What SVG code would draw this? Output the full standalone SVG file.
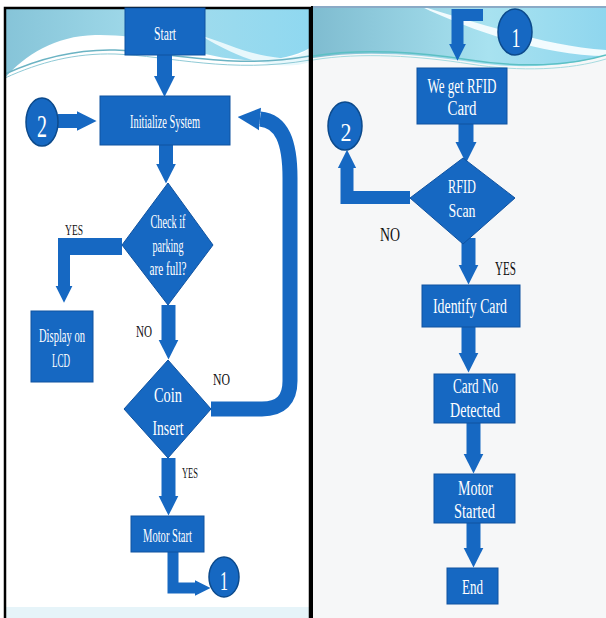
<svg xmlns="http://www.w3.org/2000/svg" width="606" height="618" viewBox="0 0 606 618">
<defs>
<linearGradient id="bandL" x1="0" y1="0" x2="1" y2="0">
<stop offset="0" stop-color="#86c4d8"/><stop offset="0.5" stop-color="#a3dcec"/><stop offset="1" stop-color="#8fd8f0"/>
</linearGradient>
<linearGradient id="bandR" x1="0" y1="0" x2="1" y2="0">
<stop offset="0" stop-color="#7fbcd0"/><stop offset="0.6" stop-color="#a8e2f0"/><stop offset="1" stop-color="#8fd6ee"/>
</linearGradient>
<marker id="ah" viewBox="0 0 10 10" refX="0" refY="5" markerUnits="strokeWidth" markerWidth="1.4" markerHeight="1.9" orient="auto">
<path d="M0,0 L10,5 L0,10 z" fill="#1668c2"/>
</marker>
<marker id="ahBig" viewBox="0 0 10 10" refX="0" refY="5" markerUnits="strokeWidth" markerWidth="1.5" markerHeight="2.4" orient="auto">
<path d="M0,0 L10,5 L0,10 z" fill="#1668c2"/>
</marker>
<style>
.box{fill:#1668c2;stroke:#0f52a0;stroke-width:1}
.circ{fill:#1668c2;stroke:#0c4a8c;stroke-width:1.5}
.t{font-family:"Liberation Serif",serif;fill:#ffffff;text-anchor:middle}
.lbl{font-family:"Liberation Serif",serif;fill:#111111;text-anchor:middle}
.con{fill:none;stroke:#1668c2;stroke-linejoin:miter;marker-end:url(#ah)}
.bar{fill:none;stroke:#1668c2}
</style>
</defs>
<!-- left panel background -->
<rect x="5" y="8" width="305" height="610" fill="#ffffff"/>
<path d="M5,8 H310 V48 C285,62 250,64 210,55 C170,46 140,34 95,35 C55,36 25,55 5,78 Z" fill="url(#bandL)"/>
<path d="M200,35 C230,45 250,55 280,58 C295,58 305,52 310,48 L310,62 C285,70 250,66 200,35 Z" fill="#e8f8fc"/>
<path d="M5,74 C40,58 75,49 115,50 C170,52 230,70 310,56" fill="none" stroke="#6bb3c3" stroke-width="1.5"/>
<path d="M5,78 C40,62 75,53 115,54 C170,56 230,74 310,60" fill="none" stroke="#8fcad6" stroke-width="1"/>
<rect x="5" y="607" width="305" height="11" fill="#e6f4f9"/>
<path d="M5,618 V8 H310 V618" fill="none" stroke="#000000" stroke-width="2.5"/>
<!-- right panel background -->
<rect x="313" y="6" width="293" height="612" fill="#f6f7f8"/>
<path d="M313,6 H606 V55 C570,66 520,70 470,62 C420,54 360,50 313,58 Z" fill="url(#bandR)"/>
<path d="M420,6 C470,20 540,45 606,50 L606,56 C540,55 470,30 420,6 Z" fill="#f2fbfe"/>
<path d="M313,56 C360,48 420,52 470,60 C520,68 570,66 606,55" fill="none" stroke="#5cc0c4" stroke-width="1.5"/>
<path d="M313,60 C360,52 420,56 470,64 C520,72 570,70 606,59" fill="none" stroke="#a6dbe0" stroke-width="1"/>
<line x1="313" y1="7" x2="606" y2="7" stroke="#8aaac6" stroke-width="2"/>
<line x1="312" y1="6" x2="312" y2="618" stroke="#000000" stroke-width="2"/>

<g id="connectors">
<path class="con" stroke-width="15" d="M164.5,55 V76"/>
<path class="con" stroke-width="14" d="M58,121 H77"/>
<path class="con" stroke-width="14" d="M166,145 V164"/>
<path class="bar" stroke-width="17" d="M122,246.5 H58"/>
<path class="con" stroke-width="12" d="M64,238 V286"/>
<path class="con" stroke-width="14" d="M168.5,305 V340"/>
<path class="con" stroke-width="15" style="marker-end:url(#ahBig)" d="M211,409 H262 Q290,409 290,381 V178 C290,142 282,121 260,119"/>
<path class="con" stroke-width="14" d="M168.5,458 V496"/>
<path class="con" stroke-width="11" d="M173,552 V588 H195"/>
<path class="con" stroke-width="12" d="M483,15 H457.5 V44"/>
<path class="con" stroke-width="15" d="M466,116 V142"/>
<path class="con" stroke-width="13" d="M410,197.5 H347 V168"/>
<path class="con" stroke-width="14" d="M468.5,238 V265"/>
<path class="con" stroke-width="14" d="M468.5,327 V353"/>
<path class="con" stroke-width="14" d="M473.5,423 V454"/>
<path class="con" stroke-width="14" d="M473.5,523 V548"/>
</g>

<g id="start"><rect class="box" x="125" y="8" width="80" height="47"/><text class="t" x="165" y="40" font-size="19" textLength="22" lengthAdjust="spacingAndGlyphs">Start</text></g>
<g id="init"><rect class="box" x="100" y="96" width="130" height="49"/><text class="t" x="165" y="128" font-size="19" textLength="70" lengthAdjust="spacingAndGlyphs">Initialize System</text></g>
<g id="conn2-left"><ellipse class="circ" cx="42" cy="122" rx="16" ry="24"/><text class="t" x="42" y="137" font-size="32" textLength="10" lengthAdjust="spacingAndGlyphs">2</text></g>
<g id="check"><polygon class="box" points="168,183 213,245 168,305 122,245"/>
<text class="t" x="168" y="228" font-size="19" textLength="35" lengthAdjust="spacingAndGlyphs">Check if</text>
<text class="t" x="168" y="252" font-size="19" textLength="31" lengthAdjust="spacingAndGlyphs">parking</text>
<text class="t" x="168" y="275" font-size="19" textLength="37" lengthAdjust="spacingAndGlyphs">are full?</text></g>
<g id="display"><rect class="box" x="31" y="311" width="62" height="71"/>
<text class="t" x="62" y="342" font-size="19" textLength="46" lengthAdjust="spacingAndGlyphs">Display on</text>
<text class="t" x="61" y="367" font-size="19" textLength="18" lengthAdjust="spacingAndGlyphs">LCD</text></g>
<g id="coin"><polygon class="box" points="168,360 211,409 168,458 124,409"/>
<text class="t" x="168" y="402" font-size="22" textLength="28" lengthAdjust="spacingAndGlyphs">Coin</text>
<text class="t" x="168" y="435" font-size="22" textLength="31" lengthAdjust="spacingAndGlyphs">Insert</text></g>
<g id="motorstart"><rect class="box" x="131" y="516" width="73" height="36"/><text class="t" x="167.5" y="542" font-size="18" textLength="49" lengthAdjust="spacingAndGlyphs">Motor Start</text></g>
<g id="conn1-left"><ellipse class="circ" cx="224" cy="577" rx="15" ry="20"/><text class="t" x="224" y="590" font-size="28" textLength="8" lengthAdjust="spacingAndGlyphs">1</text></g>
<g id="labels-left">
<text class="lbl" x="74" y="235" font-size="15" textLength="18" lengthAdjust="spacingAndGlyphs">YES</text>
<text class="lbl" x="144" y="337" font-size="17" textLength="16" lengthAdjust="spacingAndGlyphs">NO</text>
<text class="lbl" x="221.5" y="385" font-size="17" textLength="17" lengthAdjust="spacingAndGlyphs">NO</text>
<text class="lbl" x="190" y="478" font-size="15" textLength="16" lengthAdjust="spacingAndGlyphs">YES</text>
</g>

<g id="conn1-right"><ellipse class="circ" cx="515" cy="32" rx="17" ry="23"/><text class="t" x="516" y="47" font-size="28" textLength="9" lengthAdjust="spacingAndGlyphs">1</text></g>
<g id="rfidcard"><rect class="box" x="417" y="68" width="90" height="56"/>
<text class="t" x="462" y="93" font-size="20" textLength="69" lengthAdjust="spacingAndGlyphs">We get RFID</text>
<text class="t" x="462" y="115" font-size="20" textLength="29" lengthAdjust="spacingAndGlyphs">Card</text></g>
<g id="conn2-right"><ellipse class="circ" cx="345" cy="126" rx="17" ry="24"/><text class="t" x="346" y="141" font-size="26" textLength="11" lengthAdjust="spacingAndGlyphs">2</text></g>
<g id="rfidscan"><polygon class="box" points="463,158 515,198 463,244 410,198"/>
<text class="t" x="462" y="193" font-size="19" textLength="28" lengthAdjust="spacingAndGlyphs">RFID</text>
<text class="t" x="462" y="217" font-size="19" textLength="27" lengthAdjust="spacingAndGlyphs">Scan</text></g>
<g id="identify"><rect class="box" x="422" y="285" width="98" height="42"/><text class="t" x="470" y="313" font-size="20" textLength="74" lengthAdjust="spacingAndGlyphs">Identify Card</text></g>
<g id="cardno"><rect class="box" x="434" y="374" width="81" height="49"/>
<text class="t" x="475.5" y="393" font-size="20" textLength="45" lengthAdjust="spacingAndGlyphs">Card No</text>
<text class="t" x="475" y="417" font-size="20" textLength="50" lengthAdjust="spacingAndGlyphs">Detected</text></g>
<g id="motorstarted"><rect class="box" x="434" y="474" width="81" height="49"/>
<text class="t" x="475.5" y="495" font-size="20" textLength="35" lengthAdjust="spacingAndGlyphs">Motor</text>
<text class="t" x="474.5" y="518" font-size="20" textLength="41" lengthAdjust="spacingAndGlyphs">Started</text></g>
<g id="end"><rect class="box" x="447" y="568" width="51" height="36"/><text class="t" x="472.5" y="594" font-size="20" textLength="21" lengthAdjust="spacingAndGlyphs">End</text></g>
<g id="labels-right">
<text class="lbl" x="390" y="241" font-size="18" textLength="20" lengthAdjust="spacingAndGlyphs">NO</text>
<text class="lbl" x="505.5" y="275" font-size="19" textLength="21" lengthAdjust="spacingAndGlyphs">YES</text>
</g>
</svg>
